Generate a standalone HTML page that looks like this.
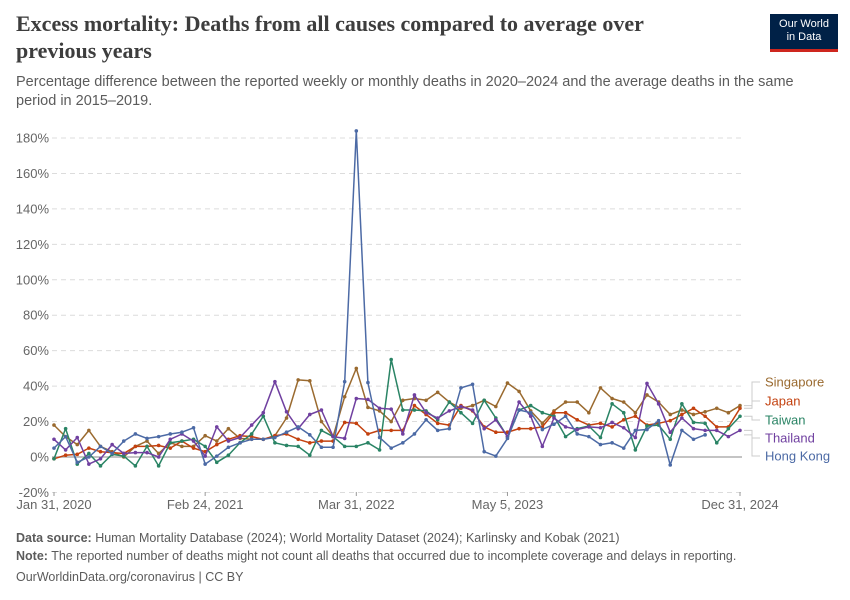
<!DOCTYPE html>
<html><head><meta charset="utf-8">
<style>
body{margin:0;background:#fff;font-family:"Liberation Sans",sans-serif;}
#wrap{position:relative;width:850px;height:600px;overflow:hidden;}
h1{position:absolute;left:16px;top:10px;margin:0;font-family:"Liberation Serif",serif;font-size:22px;line-height:27px;font-weight:bold;color:#3d3d3d;width:700px;}
.sub{position:absolute;left:16px;top:73px;font-size:14.5px;line-height:19px;color:#5b5b5b;width:800px;}
.logo{position:absolute;left:770px;top:14px;width:68px;height:38px;background:#002147;color:#fff;font-size:11px;text-align:center;line-height:13px;padding-top:4px;box-sizing:border-box;border-bottom:3px solid #ce261e;}
.foot{position:absolute;left:16px;font-size:12.5px;color:#5b5b5b;}
</style></head><body>
<div id="wrap">
<h1>Excess mortality: Deaths from all causes compared to average over previous years</h1>
<div class="sub">Percentage difference between the reported weekly or monthly deaths in 2020–2024 and the average deaths in the same period in 2015–2019.</div>
<div class="logo">Our World<br>in Data</div>
<svg id="chart" width="850" height="600" style="position:absolute;left:0;top:0"></svg>
<div class="foot" style="top:531px"><b>Data source:</b> Human Mortality Database (2024); World Mortality Dataset (2024); Karlinsky and Kobak (2021)</div>
<div class="foot" style="top:549px"><b>Note:</b> The reported number of deaths might not count all deaths that occurred due to incomplete coverage and delays in reporting.</div>
<div class="foot" style="top:570px">OurWorldinData.org/coronavirus | CC BY</div>
</div>
<script>
const yTicks=[-20,0,20,40,60,80,100,120,140,160,180];
const xTickIdx=[0,13,26,39,59];
const xTickLabels=["Jan 31, 2020","Feb 24, 2021","Mar 31, 2022","May 5, 2023","Dec 31, 2024"];
const seriesNames=["Singapore","Japan","Taiwan","Thailand","Hong Kong"];
const seriesColors=["#9a6a2f","#c3410f","#2a8465","#7040a0","#4c6aa5"];
const singapore=[18,11.5,7,15,6,3,0,6,9,2,8,6,6,12,9,16,10.5,10,10,12,22,43.5,43,20,11.5,34,50,28,26,20,32,33,32,36.5,31,27.5,29,32,28.5,41.7,37,26,19,26,31,31,25,39,33,31,25,35,31,24,26.5,24,25.5,27.5,25,29];
const japan=[-1,1,1.5,5,3,2.5,2,6,6,6.5,5,9,5,3,7,10,12,11.5,10,12,13,10,8,9,9,19.5,19,13,15,15,15,29,24,19,18,29,26,17,14,14,16,16,17,25,25,21,18,19,17,21,23,18,19,20.5,24,27.5,23,17,17,27.5];
const taiwan=[-1,16,-4,2,-5,1.5,0.5,-5,6,-5,8,9,10,6,-3,1,8,13,23,8,6.5,6,1,15,11.5,6,6,8,4,55,26.5,26.5,26,21,31,25,19,32,22,11.5,26.5,29,25,23,11.5,16,17.5,11,30,25,4,17.5,18,10,30,19.5,19,8,16,23];
const thailand=[10,4,11,-4,-1,7,2,2.5,2.5,0,10,13,9,0.5,17,9,11,18,25,42.5,25.5,16,24,26.5,11.5,10.5,33,32.5,27.5,27,13,35,25,22,26,28.5,26.5,16,21,11.5,31,23,6,22,17,15.5,17,16.5,19.5,16.5,11,41.5,30,14,22,16,15,15,11.5,15];
const hongkong=[5,11.5,-3,0,6,2,9,13,10.5,11.5,13,14,16.5,-4,0.5,5.5,8,10,10,11,14,17,12.5,5.5,5.5,42.5,184,42,11,5,8,13,21,15,16,39,41,3,0.5,10.5,26.5,25,15.5,18.5,23,13,11.5,7,8,5,15,15.5,20.5,-4.5,15,10,12.5,null,null,null];
const seriesData=[singapore,japan,taiwan,thailand,hongkong];
const NS="http://www.w3.org/2000/svg";
const svg=document.getElementById('chart');
const x0=54,x1=740,y0v=457,pxPer=(457-138)/180;
const X=i=>x0+(x1-x0)*i/59;
const Y=v=>y0v-v*pxPer;
function mk(t,a){const e=document.createElementNS(NS,t);for(const k in a)e.setAttribute(k,a[k]);svg.appendChild(e);return e;}
yTicks.forEach(v=>{
  const l=mk('line',{x1:52,x2:742,y1:Y(v),y2:Y(v),stroke:v===0?'#b0b0b0':'#dcdcdc','stroke-width':v===0?1.5:1,'stroke-dasharray':v===0?'':'5,4'});
  
  
  const t=mk('text',{x:49,y:Y(v)+4.5,'text-anchor':'end','font-size':13,fill:'#666','font-family':'Liberation Sans,sans-serif'});
  t.textContent=v+'%';
  
  
});
xTickIdx.forEach((i,k)=>{
  const l=mk('line',{x1:X(i),x2:X(i),y1:492,y2:496,stroke:'#999'});
  
  
  const t=mk('text',{x:X(i),y:509,'text-anchor':'middle','font-size':13,fill:'#666','font-family':'Liberation Sans,sans-serif'});
  t.textContent=xTickLabels[k];
  
  
});
seriesData.forEach((d,s)=>{
  let p='';d.forEach((v,i)=>{if(v!==null)p+=(p?'L':'M')+X(i).toFixed(1)+','+Y(v).toFixed(1);});
  const path=mk('path',{d:p,fill:'none',stroke:seriesColors[s],'stroke-width':1.5,'stroke-linejoin':'round'});
  
  
  d.forEach((v,i)=>{if(v===null)return;
    const c=mk('circle',{cx:X(i),cy:Y(v),r:1.8,fill:seriesColors[s]});
    
    
  });
});
const labelY=[382,401,420,438,456];
seriesNames.forEach((n,s)=>{
  const d=seriesData[s];let last=d.length-1;while(d[last]===null)last--;
  const ly=Y(d[last]);
  const ln=mk('polyline',{points:`744,${ly} 752,${ly} 752,${labelY[s]} 760,${labelY[s]}`,fill:'none',stroke:'#ccc'});
  
  
  const t=mk('text',{x:765,y:labelY[s]+4.5,'font-size':13,fill:seriesColors[s],'font-family':'Liberation Sans,sans-serif'});
  t.textContent=n;
  
  
});
</script>
</body></html>
